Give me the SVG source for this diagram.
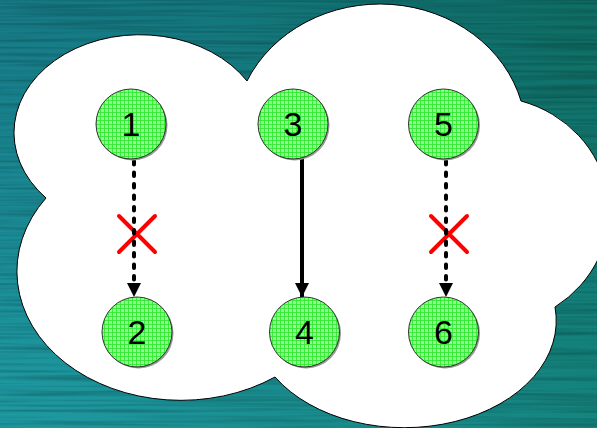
<svg xmlns="http://www.w3.org/2000/svg" width="597" height="428" viewBox="0 0 597 428">
  <defs>
    <linearGradient id="bgBase" x1="1" y1="0" x2="0" y2="1">
      <stop offset="0" stop-color="#0b5759"/>
      <stop offset="0.5" stop-color="#157a80"/>
      <stop offset="1" stop-color="#1fa4a4"/>
    </linearGradient>
    <linearGradient id="bgTint" x1="0" y1="0" x2="1" y2="0">
      <stop offset="0" stop-color="#1a80a0" stop-opacity="0.25"/>
      <stop offset="1" stop-color="#14a07c" stop-opacity="0.3"/>
    </linearGradient>
    <!-- horizontal brushed streaks -->
    <filter id="streaks" x="0" y="0" width="100%" height="100%">
      <feTurbulence type="fractalNoise" baseFrequency="0.006 0.3" numOctaves="2" seed="7"/>
      <feColorMatrix type="matrix" values="0 0 0 0 0  0 0 0 0 0  0 0 0 0 0  0.5 0 0 0 -0.2"/>
    </filter>
    <pattern id="grid" width="4" height="4" patternUnits="userSpaceOnUse">
      <rect width="4" height="4" fill="#8cff8c"/>
      <path d="M0 0.5H4M0.5 0V4" stroke="#2ae62a" stroke-width="0.8"/>
    </pattern>
    <marker id="head" viewBox="0 0 14 14" refX="14" refY="7" markerWidth="14" markerHeight="14" markerUnits="userSpaceOnUse" orient="auto">
      <path d="M0 0L14 7L0 14Z" fill="#000"/>
    </marker>
    <style>
      .node circle.bg { fill: url(#grid); stroke: #333; stroke-width: 1; }
      .node circle.sh { fill: #999; }
      .node text { font-family: "Liberation Sans", Arial, sans-serif; font-size: 34px; fill: #000; text-anchor: middle; }
      .link { stroke: #000; stroke-width: 4; fill: none; }
      .dash { stroke-dasharray: 3.5 8; stroke-linecap: round; }
      .cross { stroke: #ff0000; stroke-width: 4; stroke-linecap: round; fill: none; }
    </style>
  </defs>

  <!-- background -->
  <rect width="597" height="428" fill="url(#bgBase)"/>
  <rect width="597" height="428" fill="url(#bgTint)"/>
  <rect width="597" height="428" filter="url(#streaks)"/>

  <!-- cloud -->
  <path id="cloud" d="M247 81 A146 131 0 0 1 521 101 A122 115 0 0 1 555 307 A152 107 0 0 1 275 377 A164 129 0 0 1 46 198 A126 98 0 1 1 247 81 Z" fill="#fff" stroke="#000" stroke-width="1"/>

  <!-- blocked markers -->
  <path class="cross" d="M119 216L155 252M155 216L119 252"/>
  <path class="cross" d="M431 216L467 252M467 216L431 252"/>

  <g id="connectors">
    <line class="link dash" x1="134" y1="161" x2="134" y2="297" marker-end="url(#head)"/>
    <line class="link" x1="302" y1="159" x2="302" y2="297" marker-end="url(#head)"/>
    <line class="link dash" x1="446" y1="161" x2="446" y2="297" marker-end="url(#head)"/>
  </g>

  <g id="n1" class="node"><circle class="sh" cx="132.5" cy="125.5" r="35"/><circle class="bg" cx="131" cy="124" r="35"/><text x="131" y="136">1</text></g>
  <g id="n3" class="node"><circle class="sh" cx="294.5" cy="125.5" r="35"/><circle class="bg" cx="293" cy="124" r="35"/><text x="293" y="136">3</text></g>
  <g id="n5" class="node"><circle class="sh" cx="445" cy="125.5" r="35"/><circle class="bg" cx="443.5" cy="124" r="35"/><text x="443.5" y="136">5</text></g>
  <g id="n2" class="node"><circle class="sh" cx="138.5" cy="333.5" r="35"/><circle class="bg" cx="137" cy="332" r="35"/><text x="137" y="344">2</text></g>
  <g id="n4" class="node"><circle class="sh" cx="306" cy="333.5" r="35"/><circle class="bg" cx="304.5" cy="332" r="35"/><text x="304.5" y="344">4</text></g>
  <g id="n6" class="node"><circle class="sh" cx="445" cy="333.5" r="35"/><circle class="bg" cx="443.5" cy="332" r="35"/><text x="443.5" y="344">6</text></g>
</svg>
